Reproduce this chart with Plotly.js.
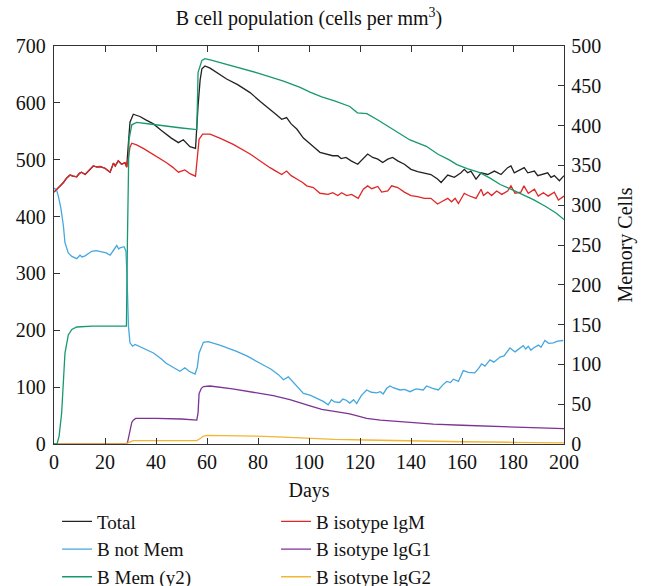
<!DOCTYPE html>
<html><head><meta charset="utf-8">
<script src="https://cdn.plot.ly/plotly-3.0.1.min.js"></script>
<style>html,body{margin:0;padding:0;background:#fff}</style>
</head><body><div id="chart" style="width:650px;height:586px"></div>
<script>
const totalDays=[0,2,3.7,5,6.3,7.5,8.9,10,10.8,12.2,13.5,15.4,17,18,20,22,23.3,24,25.2,26.5,27.8,28.5,29.2,29.8,31.1,33.7,36,39,42,44,46,48.8,50.7,53.3,55.5,56.5,57.3,58,59.2,61.2,64,67.7,72,76.9,81,84.7,87,89.3,91.2,93,95.2,97.8,99.7,102,104.3,107.5,109.3,111.3,112.6,114.5,116.5,119.1,121.1,123,125,127,128.9,130.9,132.8,134.8,137.4,140,142.6,145.2,147.8,150.4,151.8,154.4,157,159.6,160.9,162.2,163.5,165.5,167.5,170.1,172.7,175.3,177.9,179.2,180.5,183.1,184.4,185.8,188.4,189.7,191,193.6,194.9,196.2,198.2,200];
const totalVals=[443,452,460,468,473,471,470,476,478,474,480,489,487,488,485,478,494,489,498,492,495,487,530,566,580,576,570,563,552,545,538,530,535,523,520,595,640,660,665,661,653,642,632,618,602,589,580,571,574,563,554,538,530,522,513,510,507,507,502,504,498,492,501,510,504,501,495,501,504,498,492,483,479,477,474,466,460,473,469,477,483,477,480,466,477,474,480,474,486,489,477,483,486,477,480,472,474,477,469,472,463,472];

const notMemDays=[0,1,1.7,2.7,3.7,4.3,5.6,7,8.9,10.2,11,12.2,14.8,16.5,18.7,20.5,22,24.6,25.4,25.9,27.5,28.2,28.6,29.2,29.8,30.8,31.8,35,39,42,44,47,49.4,51.3,53,55.3,56.2,56.9,58.6,60.5,65,71.6,76,80.8,85,88,90,91.9,94,96.5,97.8,100.4,103,105.6,107.5,108.8,110,112,113.3,114.6,116,117.5,118.7,120.5,122.6,124.5,126.5,128,129.1,130.5,131.8,133,135.7,137.5,139.6,142,144.8,146.1,148.5,150.7,152.5,154,155.5,156.6,158.6,160.5,162.5,165,166.5,167.7,169,171,172.5,174.9,176.5,178.8,180.8,182.5,184,185,186,187,188,190,191,192.5,194,195.8,197.5,199.7];
const notMemVals=[450,447,436,415,383,354,336,330,326,332,329,331,339,340,338,336,332,349,343,345,347,339,300,207,178,172,175,168,160,150,142,134,128,134,128,123,135,160,179,180,174,163,154,142,132,122,113,118,108,95,89,86,80,75,69,78,74,73,79,77,72,78,71,85,95,91,90,92,88,98,102,99,95,96,92,97,95,102,98,95,104,110,108,114,110,129,126,125,133,141,137,148,144,153,155,169,162,168,173,167,172,165,169,174,170,182,177,178,181,182];

const memDays=[0,1.2,2,3,4.3,5.6,7,8.9,15,27,28.4,28.8,29.4,30.5,32.4,37.6,44,50,56,56.5,58,59.2,62,70,80,90,96.5,100.4,105,110,116,119,122.7,127,132,139.6,146,150.6,155,158,162,167,171,175,180,184,188,193,197,200];
const memVals=[0,0,10,39,114,137,144,147,148,148,148,257,382,401,404,402,399,397,395,467,482,484,482,475,466,456,448,442,436,431,424,416,415,407,397,382,374,364,357,351,346,341,334,326,319,313,307,298,290,282];

const igmDays=[0,2,3.7,5,6.3,7.5,8.9,10,10.8,12.2,13.5,15.4,17,18,20,22,23.3,24,25.2,26.5,27.8,28.5,29.2,29.8,30.5,32.4,35,37.6,41,44,46.5,48.8,51.3,53.5,55.5,56.9,58.3,61.2,65,70.3,76.9,80,84.7,87,89.3,91.2,93,95.2,97.5,99.1,101.7,104.3,107.5,109.3,111.3,112.8,114.8,116.7,119.3,121.3,123,124.6,127,128.5,130.9,132.4,134.8,137.4,140,142.6,145.2,147.8,150.4,152,154.4,155.9,157.3,158.6,160.9,162.5,165.5,167.5,168.4,170.1,171.6,173.6,175.6,177.9,179.2,180.8,183.1,184.3,186,188.4,189.9,191.9,193.8,196.2,197.8,200];
const igmVals=[443,452,460,468,473,471,470,476,478,474,480,489,487,488,485,478,494,489,498,492,495,487,505,522,529,526,520,513,503,495,487,478,482,475,471,536,545,545,538,527,510,500,486,480,474,480,472,466,460,454,451,441,439,442,437,442,437,439,432,448,454,449,453,443,445,454,451,443,437,435,432,432,422,426,432,426,432,423,441,437,432,448,437,443,437,445,439,445,454,441,443,454,441,448,436,442,436,443,429,436];

const igg1Days=[0,28,28.8,29.3,29.8,30.5,31.1,32,40,50,56,56.5,56.9,57.8,58.6,61.2,70,79.5,86,92.5,96.5,100.4,105,109.4,113,116,122.6,128,135.7,148.8,160,168,188,200];
const igg1Vals=[0,0,2,12,25,38,42,45,45,44,42,55,89,98,101,102,97,90,85,78,73,67,61,57,55,53,45,42,39,35,33,32,29,27];

const igg2Days=[0,28,29,30,31,45,56,57.5,58.6,60,70,79.5,90,100.4,110,122.6,140,160,180,200];
const igg2Vals=[0,0,2,4,6,6,6,10,14,15,15,14,12,10,8,7,5,4,3,2];

const names=["Total","B not Mem","B Mem (y2)","B isotype lgM","B isotype lgG1","B isotype lgG2"];
const colors=["#222222","#45a7e0","#17996c","#e02626","#7b3394","#f2b534"];
const ranks=[1,3,5,2,4,6];

const series=[[totalDays,totalVals,'y'],[notMemDays,notMemVals,'y'],[memDays,memVals,'y2'],[igmDays,igmVals,'y'],[igg1Days,igg1Vals,'y'],[igg2Days,igg2Vals,'y']];
const traces=series.map((s,i)=>({x:s[0],y:s[1],yaxis:s[2],name:names[i],type:'scatter',mode:'lines',
  line:{color:colors[i],width:1.3},legendrank:ranks[i]}));

const F="Liberation Serif, Times New Roman, serif";
const FS=20;
const layout={
  width:650,height:586,
  margin:{l:54,r:86,t:46,b:142,autoexpand:false},
  paper_bgcolor:'#fff',plot_bgcolor:'#fff',
  font:{family:F,size:FS,color:'#111'},
  title:{text:'B cell population (cells per mm<sup>3</sup>)',x:0.5,xref:'paper',y:0.969,yref:'container',yanchor:'middle',font:{family:F,size:FS,color:'#111'}},
  xaxis:{range:[0,200],dtick:20,tick0:0,ticks:'inside',ticklen:6,tickcolor:'#333',showline:true,linecolor:'#333',linewidth:1.3,mirror:'ticks',showgrid:false,zeroline:false,
    tickfont:{family:F,size:FS,color:'#111'},title:{text:'Days',font:{family:F,size:FS,color:'#111'},standoff:10}},
  yaxis:{range:[0,700],dtick:100,ticks:'inside',ticklen:6,tickcolor:'#333',showline:true,linecolor:'#333',linewidth:1.3,showgrid:false,zeroline:false,
    tickfont:{family:F,size:FS,color:'#111'},ticklabelstandoff:3},
  yaxis2:{overlaying:'y',side:'right',range:[0,500],dtick:50,ticks:'inside',ticklen:6,tickcolor:'#333',showline:true,linecolor:'#333',linewidth:1.3,showgrid:false,zeroline:false,
    tickfont:{family:F,size:FS,color:'#111'},ticklabelstandoff:2,title:{text:'Memory Cells',font:{family:F,size:FS,color:'#111'},standoff:17}},
  showlegend:true,
  legend:{orientation:'h',x:0.006,xanchor:'left',y:-0.147,yanchor:'top',entrywidth:174,entrywidthmode:'pixels',
    font:{family:F,size:19,color:'#111'},bgcolor:'rgba(0,0,0,0)',traceorder:'normal'}
};
Plotly.newPlot('chart',traces,layout,{displayModeBar:false});
</script></body></html>
